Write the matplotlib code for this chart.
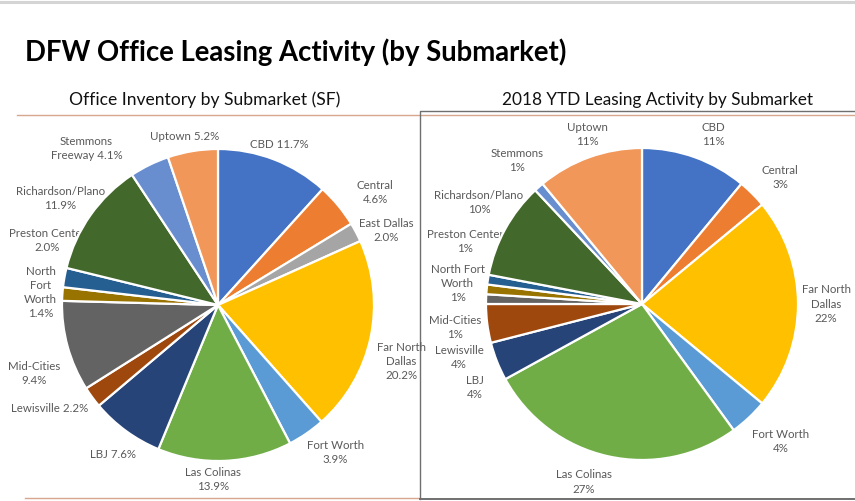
import numpy as np
import matplotlib
matplotlib.use('Agg')
import matplotlib.pyplot as plt

# Data
submarkets = ['CBD', 'Central', 'East Dallas', 'Far North Dallas', 'Fort Worth',
              'Las Colinas', 'LBJ', 'Lewisville', 'Mid-Cities', 'North Fort Worth',
              'Preston Center', 'Richardson/Plano', 'Stemmons Freeway', 'Uptown']
inventory_pct = [11.7, 4.6, 2.0, 20.2, 3.9, 13.9, 7.6, 2.2, 9.4, 1.4, 2.0, 11.9, 4.1, 5.2]
leasing_pct = [11, 3, 0, 22, 4, 27, 4, 4, 1, 1, 1, 10, 1, 11]

inventory_labels = ['CBD 11.7%', 'Central\n4.6%', 'East Dallas\n2.0%', 'Far North\nDallas\n20.2%',
                    'Fort Worth\n3.9%', 'Las Colinas\n13.9%', 'LBJ 7.6%', 'Lewisville 2.2%',
                    'Mid-Cities\n9.4%', 'North\nFort\nWorth\n1.4%', 'Preston Center\n2.0%',
                    'Richardson/Plano\n11.9%', 'Stemmons\nFreeway 4.1%', 'Uptown 5.2%']
leasing_labels = ['CBD\n11%', 'Central\n3%', '', 'Far North\nDallas\n22%', 'Fort Worth\n4%',
                  'Las Colinas\n27%', 'LBJ\n4%', 'Lewisville\n4%', 'Mid-Cities\n1%',
                  'North Fort\nWorth\n1%', 'Preston Center\n1%', 'Richardson/Plano\n10%',
                  'Stemmons\n1%', 'Uptown\n11%']

colors = ['#4472C4', '#ED7D31', '#A5A5A5', '#FFC000', '#5B9BD5', '#70AD47', '#264478',
          '#9E480E', '#636363', '#997300', '#255E91', '#43682B', '#698ED0', '#F1975A']

# label placement: (radial distance, clockwise angle shift in deg)
inv_lbl_pos = [(1.10, 0), (1.24, 4), (1.18, 4), (1.23, 5), (1.21, -4), (1.12, 4), (1.17, -1),
               (1.27, 4.6), (1.26, -5), (1.14, 0), (1.17, 10.6), (1.22, -1), (1.31, -14), (1.10, -2)]
lea_lbl_pos = [(1.18, 3), (1.20, 2.6), (1.2, 0), (1.18, 0), (1.25, -2), (1.20, 5.4), (1.20, -5),
               (1.22, -9), (1.21, -9), (1.19, 1), (1.20, 10.4), (1.23, 3), (1.22, 0.4), (1.14, 2)]

W, H = 855, 501
FONT = 'Lato'
LBL_COLOR = '#595959'


def draw_pie(fig, cx, cy, r, values, labels, lbl_pos):
    ax = fig.add_axes([(cx - r) / W, (H - cy - r) / H, 2 * r / W, 2 * r / H])
    vals = [v for v in values if v > 0]
    cols = [c for v, c in zip(values, colors) if v > 0]
    lbls = [l for v, l in zip(values, labels) if v > 0]
    pos = [p for v, p in zip(values, lbl_pos) if v > 0]
    wedges, _ = ax.pie(vals, colors=cols, startangle=90, counterclock=False,
                       wedgeprops=dict(edgecolor='white', linewidth=1.6))
    for w in wedges:
        w.set_zorder(3)
    for w, l, (dist, dang) in zip(wedges, lbls, pos):
        theta = np.deg2rad((w.theta1 + w.theta2) / 2.0 - dang)
        ax.text(dist * np.cos(theta), dist * np.sin(theta), l, ha='center', va='center',
                fontsize=8.3, color=LBL_COLOR, family=FONT, linespacing=1.35, zorder=1)
    ax.set_xlim(-1, 1)
    ax.set_ylim(-1, 1)
    ax.axis('off')
    return ax


fig = plt.figure(figsize=(W / 100, H / 100), dpi=100)

# overlay for title, subtitles and frame lines (pixel coords)
ov = fig.add_axes([0, 0, 1, 1])
ov.set_xlim(0, W)
ov.set_ylim(H, 0)
ov.axis('off')

ov.plot([0, W], [1.5, 1.5], color='#d4d4d4', lw=2.2)
ov.text(25, 52, 'DFW Office Leasing Activity (by Submarket)', fontsize=19.8,
        fontweight='bold', family=FONT, ha='left', va='center', color='black')
ov.text(205, 100, 'Office Inventory by Submarket (SF)', fontsize=12.6, family=FONT,
        ha='center', va='center', color='#111111')
ov.text(657, 100, '2018 YTD Leasing Activity by Submarket', fontsize=12.4, family=FONT,
        ha='center', va='center', color='#111111')

# brown rules
ov.plot([17, W], [114.5, 114.5], color='#D8A68E', lw=1.0)
ov.plot([25, 420], [498, 498], color='#D8A68E', lw=1.0)
# grey box around right chart
ov.plot([420, 420, W], [499, 111, 111], color='#6f6f6f', lw=1.0)
ov.plot([420, W], [499, 499], color='#6f6f6f', lw=1.4)

draw_pie(fig, 218, 305, 156, inventory_pct, inventory_labels, inv_lbl_pos)
draw_pie(fig, 642, 304, 156, leasing_pct, leasing_labels, lea_lbl_pos)

fig.savefig('out.png', dpi=100)
